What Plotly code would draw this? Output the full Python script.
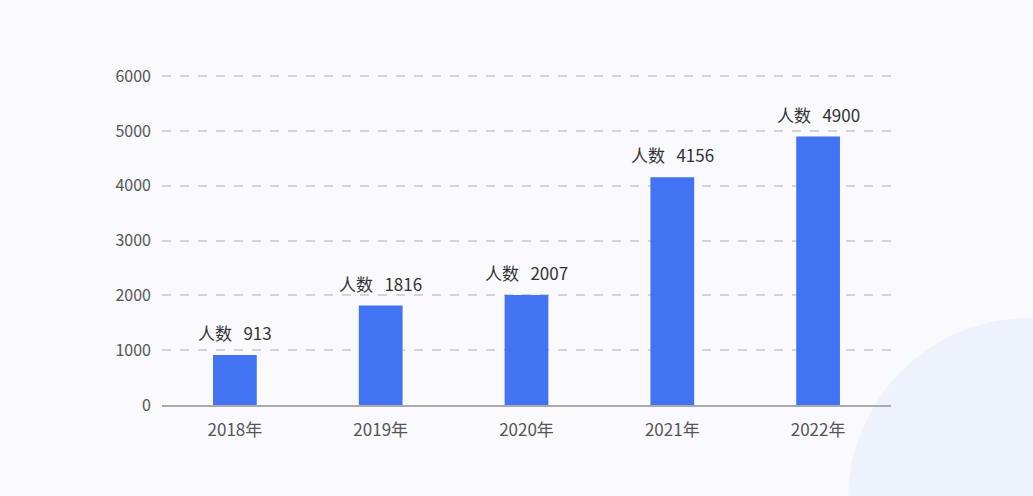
import plotly.graph_objects as go

years = ['2018年', '2019年', '2020年', '2021年', '2022年']
people = [913, 1816, 2007, 4156, 4900]
label_prefix = '人数'

W, H = 1033, 496
ML, MR, MT, MB = 162, 142, 73, 91
Y_TOP = 6060
plot_w = W - ML - MR
plot_h = H - MT - MB


def px_to_paper_x(px):
    return (px - ML) / plot_w


def px_to_paper_y(py):
    return (H - MB - py) / plot_h


fig = go.Figure()

fig.add_trace(go.Bar(x=years, y=people, width=0.3,
                     marker=dict(color='#4273f3', line=dict(width=0)),
                     hoverinfo='x+y'))

# value labels above each bar
for yr, val in zip(years, people):
    fig.add_annotation(x=yr, y=val,
                       text=label_prefix + '\u00a0\u00a0\u00a0' + str(val),
                       showarrow=False, yanchor='bottom', yshift=8,
                       font=dict(size=17, color='#333333',
                                 family='Noto Sans CJK SC'))

# decorative circle in the lower right corner
fig.add_shape(type='circle', xref='paper', yref='paper', layer='below',
              x0=px_to_paper_x(848), x1=px_to_paper_x(1212),
              y0=px_to_paper_y(682), y1=px_to_paper_y(318),
              fillcolor='#edf2fd', line=dict(width=0))

fig.update_layout(
    width=W, height=H,
    margin=dict(l=ML, r=MR, t=MT, b=MB),
    paper_bgcolor='#f9f9fe',
    plot_bgcolor='rgba(0,0,0,0)',
    showlegend=False,
    font=dict(family='Noto Sans CJK SC', size=16, color='#555555'),
    bargap=0.7,
)
fig.update_xaxes(showline=True, linecolor='#aaaaaa', linewidth=2,
                 ticks='', showgrid=False, ticklabelstandoff=9,
                 tickfont=dict(size=17, color='#555555'))
fig.update_yaxes(range=[0, Y_TOP], dtick=1000, showgrid=True,
                 gridcolor='#d3d3d8', griddash='dash', gridwidth=1.5,
                 zeroline=False, showline=False, ticks='',
                 ticklabelstandoff=10,
                 tickfont=dict(size=16, color='#555555'))

fig.write_html('out.html', config={'displayModeBar': False},
               post_script="document.body.style.margin='0';"
                           "document.body.style.overflow='hidden';")
